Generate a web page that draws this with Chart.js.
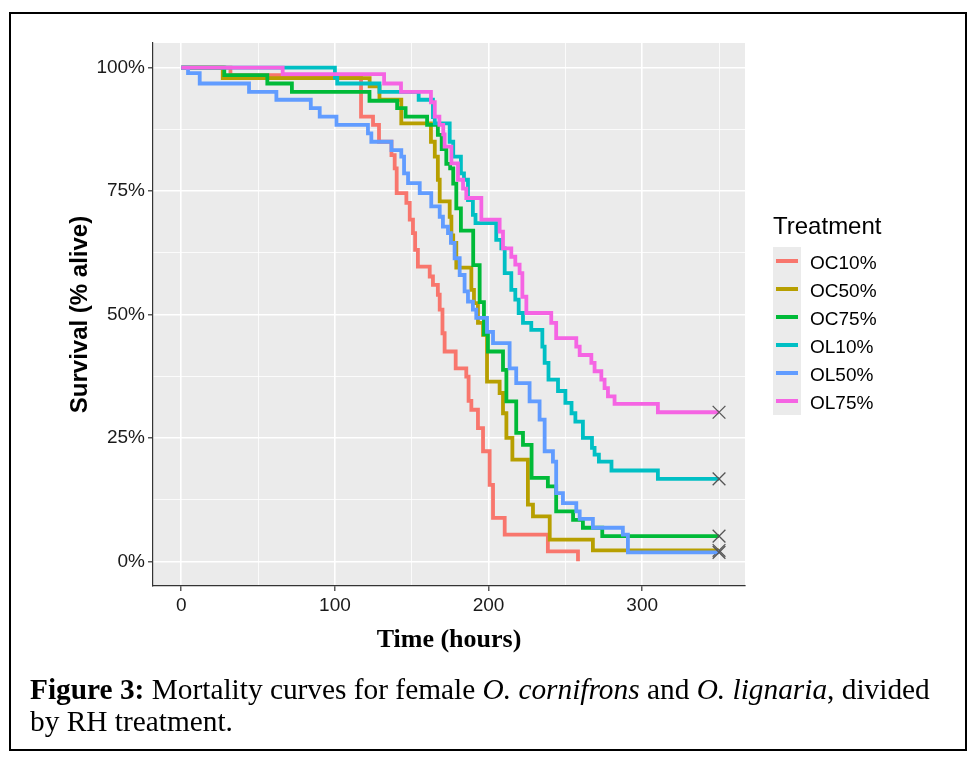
<!DOCTYPE html>
<html>
<head>
<meta charset="utf-8">
<script src="https://cdn.jsdelivr.net/npm/chart.js@4/dist/chart.umd.min.js"></script>
<style>
  html, body { margin: 0; padding: 0; background: #ffffff; }
  #wrap { position: relative; width: 973px; height: 762px; overflow: hidden; background: #ffffff; }
  #c { position: absolute; left: 0; top: 0; }
  #frame { position: absolute; left: 9px; top: 12px; width: 954px; height: 735px; border: 2px solid #000; pointer-events: none; }
  #legend { position: absolute; left: 0; top: 0; font-family: 'Liberation Sans', Arial, sans-serif; color: #000; }
  #legTitle { position: absolute; left: 773px; top: 214px; font-size: 24px; line-height: 24px; white-space: nowrap; }
  #legKeys { position: absolute; left: 773px; top: 247px; width: 28px; height: 168px; background: #EBEBEB; }
  .key { position: absolute; left: 3px; width: 22px; height: 4px; }
  .lab { position: absolute; left: 810px; font-size: 19px; line-height: 28px; height: 28px; white-space: nowrap; }
  #caption { position: absolute; left: 30px; top: 673px; font-family: 'Liberation Serif', 'Times New Roman', serif; font-size: 29.35px; line-height: 32px; color: #000; white-space: nowrap; }
</style>
</head>
<body>
<div id="wrap">
  <canvas id="c" width="973" height="762"></canvas>
  <div id="legend">
    <div id="legTitle">Treatment</div>
    <div id="legKeys"></div>
  </div>
  <div id="caption"><b>Figure 3:</b> Mortality curves for female <i>O. cornifrons</i> and <i>O. lignaria</i>, divided<br>by RH treatment.</div>
  <div id="frame"></div>
</div>
<script>
// ---------- data ----------
const seriesNames  = ['OC10%', 'OC50%', 'OC75%', 'OL10%', 'OL50%', 'OL75%'];
const seriesColors = ['#F8766D', '#B79F00', '#00BA38', '#00BFC4', '#619CFF', '#F564E3'];

const oc10Time = [0, 32, 117, 124.8, 128.7, 136.8, 138.9, 140.2, 146.5, 148.7, 150.8, 152.2, 154, 161.7, 163.8, 167, 168.2, 170, 171.4, 178.6, 185.5, 187, 188.8, 193.1, 196.4, 200.7, 202.9, 210.5, 238.6, 258.2];
const oc10Surv = [100, 98.5, 90.1, 88.4, 85, 82.3, 79.6, 74.6, 72.6, 69.2, 66.5, 63.1, 59.7, 57.7, 56, 54, 51, 46.2, 42.5, 39.1, 37.4, 32.5, 30.7, 27, 22.3, 15.5, 8.8, 5.4, 2, 0];

const oc50Time = [0, 27, 122.6, 129, 143.2, 162.5, 165, 167, 168.2, 174.7, 175.8, 177, 179, 188.8, 190.5, 193.1, 196.4, 199, 207.2, 209.4, 211.6, 215.5, 225.6, 228.9, 239.8, 267.9, 350];
const oc50Surv = [100, 97.9, 96.2, 93.5, 88.7, 85, 82, 77.3, 72.9, 69.8, 66, 64.5, 59.5, 55, 52.3, 48.3, 45.9, 36.4, 34.1, 30, 25, 20.6, 11.5, 9.1, 4.4, 2.2, 2.2];

const oc75Time = [0, 28, 56, 72, 122.5, 140.5, 146, 160, 167, 169.5, 172.5, 175, 177, 179, 182, 190, 194.2, 197, 199.6, 209.4, 211.6, 218, 222.4, 228, 238.6, 244, 255, 261.4, 274, 350];
const oc75Surv = [100, 98.5, 96.8, 95.1, 93.3, 91.8, 90.1, 88.4, 86.4, 83.5, 80.5, 79.6, 76.5, 71.5, 67, 60, 52.5, 46, 42.5, 38.8, 32.4, 26, 23.6, 16.9, 15.2, 10.1, 8.4, 6.8, 5.1, 5.1];

const ol10Time = [0, 100, 101.5, 129, 154.5, 163.8, 165, 174.7, 177, 182, 184, 186.6, 189.8, 191.5, 205, 208.3, 210.5, 214.8, 217.4, 219.6, 222.4, 227.8, 235, 236.5, 239, 245.2, 250, 254, 256.5, 261.4, 267.3, 269, 271.8, 280, 310.2, 350];
const ol10Surv = [100, 98, 96.8, 95.1, 93.5, 90, 88.7, 85, 82, 78.6, 77.3, 73.2, 70.2, 68.5, 65.1, 63.4, 58.4, 55, 53, 50.3, 48.3, 46.9, 43.5, 40.2, 36.8, 34.5, 32.1, 30, 28.3, 25, 23, 21.6, 20.2, 18.4, 16.7, 16.7];

const ol50Time = [0, 4.4, 12, 44.1, 61.9, 84.3, 90.1, 101, 121.5, 123.7, 136.8, 143.2, 145, 147.6, 155.2, 162.7, 168.2, 170.3, 173.6, 175.5, 177.9, 181.2, 184.4, 186.6, 189.8, 192, 199, 202.9, 213.7, 218, 226.7, 233.2, 236.5, 241.9, 244, 248.4, 257.1, 259.3, 267.9, 287.4, 290.7, 350];
const ol50Surv = [100, 98.9, 96.8, 95.1, 93.5, 91.8, 90.1, 88.4, 86.7, 85, 83.3, 82, 78.6, 76.6, 74.6, 71.9, 69.8, 67.8, 66.5, 64.5, 61.4, 58, 54.7, 52.6, 51, 49.3, 46.5, 44.2, 39.1, 36.1, 32.4, 28.7, 22.3, 20.2, 13.8, 11.8, 10.1, 8.6, 6.8, 5.4, 1.8, 1.8];

const ol75Time = [0, 66, 132, 143, 162.5, 165, 168, 170.5, 171.4, 175.8, 180.1, 183.4, 185.5, 195.3, 207.2, 209.4, 214.8, 217.4, 220.2, 222, 224.6, 240.8, 244, 257.1, 259.3, 266.9, 269, 273.4, 275.5, 277.7, 282, 310.2, 350];
const ol75Surv = [100, 98.7, 96.8, 95.1, 93, 90.1, 88.4, 86.5, 84, 80.6, 77.3, 75.5, 73.6, 69.2, 66.8, 63.4, 61.7, 60.1, 58.4, 53.6, 50.3, 48.3, 45.2, 43.5, 41.8, 40.2, 38.5, 36.8, 35.1, 33.4, 31.9, 30.2, 30.2];

const censorTime = 350;          // end of observation: surviving curves get an X mark

const xTickValues = [0, 100, 200, 300];
const xGridValues = [0, 50, 100, 150, 200, 250, 300, 350];
const yTickValues = [0, 25, 50, 75, 100];
const yTickLabels = ['0%', '25%', '50%', '75%', '100%'];
const yGridValues = [0, 12.5, 25, 37.5, 50, 62.5, 75, 87.5, 100];

const xTitle = 'Time (hours)';
const yTitle = 'Survival (% alive)';

// ---------- build ----------
const seriesTimes = [oc10Time, oc50Time, oc75Time, ol10Time, ol50Time, ol75Time];
const seriesSurvs = [oc10Surv, oc50Surv, oc75Surv, ol10Surv, ol50Surv, ol75Surv];

function zip(t, s) {
  const n = Math.min(t.length, s.length);
  const out = [];
  for (let i = 0; i < n; i++) out.push({ x: t[i], y: s[i] });
  return out;
}

const datasets = seriesNames.map((name, i) => {
  const pts = zip(seriesTimes[i], seriesSurvs[i]);
  const censored = pts.length && pts[pts.length - 1].x === censorTime;
  return {
    label: name,
    data: pts,
    borderColor: seriesColors[i],
    backgroundColor: seriesColors[i],
    borderWidth: 3.8,
    stepped: 'before',
    fill: false,
    tension: 0,
    order: seriesNames.length - i,
    pointStyle: 'crossRot',
    pointRadius: ctx => (censored && ctx.dataIndex === pts.length - 1) ? 9 : 0,
    pointHoverRadius: 0,
    pointBorderColor: '#555555',
    pointBackgroundColor: 'rgba(0,0,0,0)',
    pointBorderWidth: 1.3
  };
});

// legend (HTML) from the series arrays
const keysBox = document.getElementById('legKeys');
const legendBox = document.getElementById('legend');
seriesNames.forEach((name, i) => {
  const k = document.createElement('div');
  k.className = 'key';
  k.style.top = (12 + i * 28.05) + 'px';
  k.style.background = seriesColors[i];
  keysBox.appendChild(k);
  const l = document.createElement('div');
  l.className = 'lab';
  l.style.top = (249 + i * 28.05) + 'px';
  l.textContent = name;
  legendBox.appendChild(l);
});

const panelBg = {
  id: 'panelBg',
  beforeDraw(chart) {
    const a = chart.chartArea, ctx = chart.ctx;
    ctx.save();
    ctx.fillStyle = '#EBEBEB';
    ctx.fillRect(a.left, a.top, a.right - a.left, a.bottom - a.top);
    ctx.restore();
  }
};

const sans = "'Liberation Sans', Arial, sans-serif";
const serif = "'Liberation Serif', 'Times New Roman', serif";

new Chart(document.getElementById('c'), {
  type: 'line',
  data: { datasets },
  plugins: [panelBg],
  options: {
    responsive: false,
    animation: false,
    devicePixelRatio: 1,
    layout: { padding: { left: 0, top: 43, right: 228, bottom: 102 } },
    plugins: { legend: { display: false }, tooltip: { enabled: false } },
    scales: {
      x: {
        type: 'linear',
        min: -18.4,
        max: 366.9,
        afterBuildTicks: s => { s.ticks = xGridValues.map(v => ({ value: v })); },
        afterFit: s => { s.height = 74; },
        ticks: {
          autoSkip: false, maxRotation: 0, minRotation: 0,
          padding: 3,
          color: '#1a1a1a',
          font: { family: sans, size: 19 },
          callback: v => xTickValues.includes(v) ? String(v) : ''
        },
        grid: {
          color: '#ffffff',
          lineWidth: c => (c.tick && xTickValues.includes(c.tick.value)) ? 1.6 : 0.8,
          tickLength: 5,
          tickWidth: 1.2,
          tickColor: c => (c.tick && xTickValues.includes(c.tick.value)) ? '#333333' : 'rgba(0,0,0,0)'
        },
        border: { display: true, color: '#333333', width: 1.2 },
        title: {
          display: true, text: xTitle, color: '#000',
          font: { family: serif, size: 26, weight: 'bold' },
          padding: { top: 0, bottom: 4 }
        }
      },
      y: {
        type: 'linear',
        min: -5,
        max: 105,
        afterBuildTicks: s => { s.ticks = yGridValues.map(v => ({ value: v })); },
        afterFit: s => { s.width = 153; },
        ticks: {
          autoSkip: false,
          padding: 3,
          color: '#1a1a1a',
          font: { family: sans, size: 19 },
          callback: v => { const k = yTickValues.indexOf(v); return k >= 0 ? yTickLabels[k] : ''; }
        },
        grid: {
          color: '#ffffff',
          lineWidth: c => (c.tick && yTickValues.includes(c.tick.value)) ? 1.6 : 0.8,
          tickLength: 5,
          tickWidth: 1.2,
          tickColor: c => (c.tick && yTickValues.includes(c.tick.value)) ? '#333333' : 'rgba(0,0,0,0)'
        },
        border: { display: true, color: '#333333', width: 1.2 },
        title: {
          display: true, text: yTitle, color: '#000',
          font: { family: sans, size: 24, weight: 'bold' },
          padding: { top: 66, bottom: 0 }
        }
      }
    }
  }
});
</script>
</body>
</html>
